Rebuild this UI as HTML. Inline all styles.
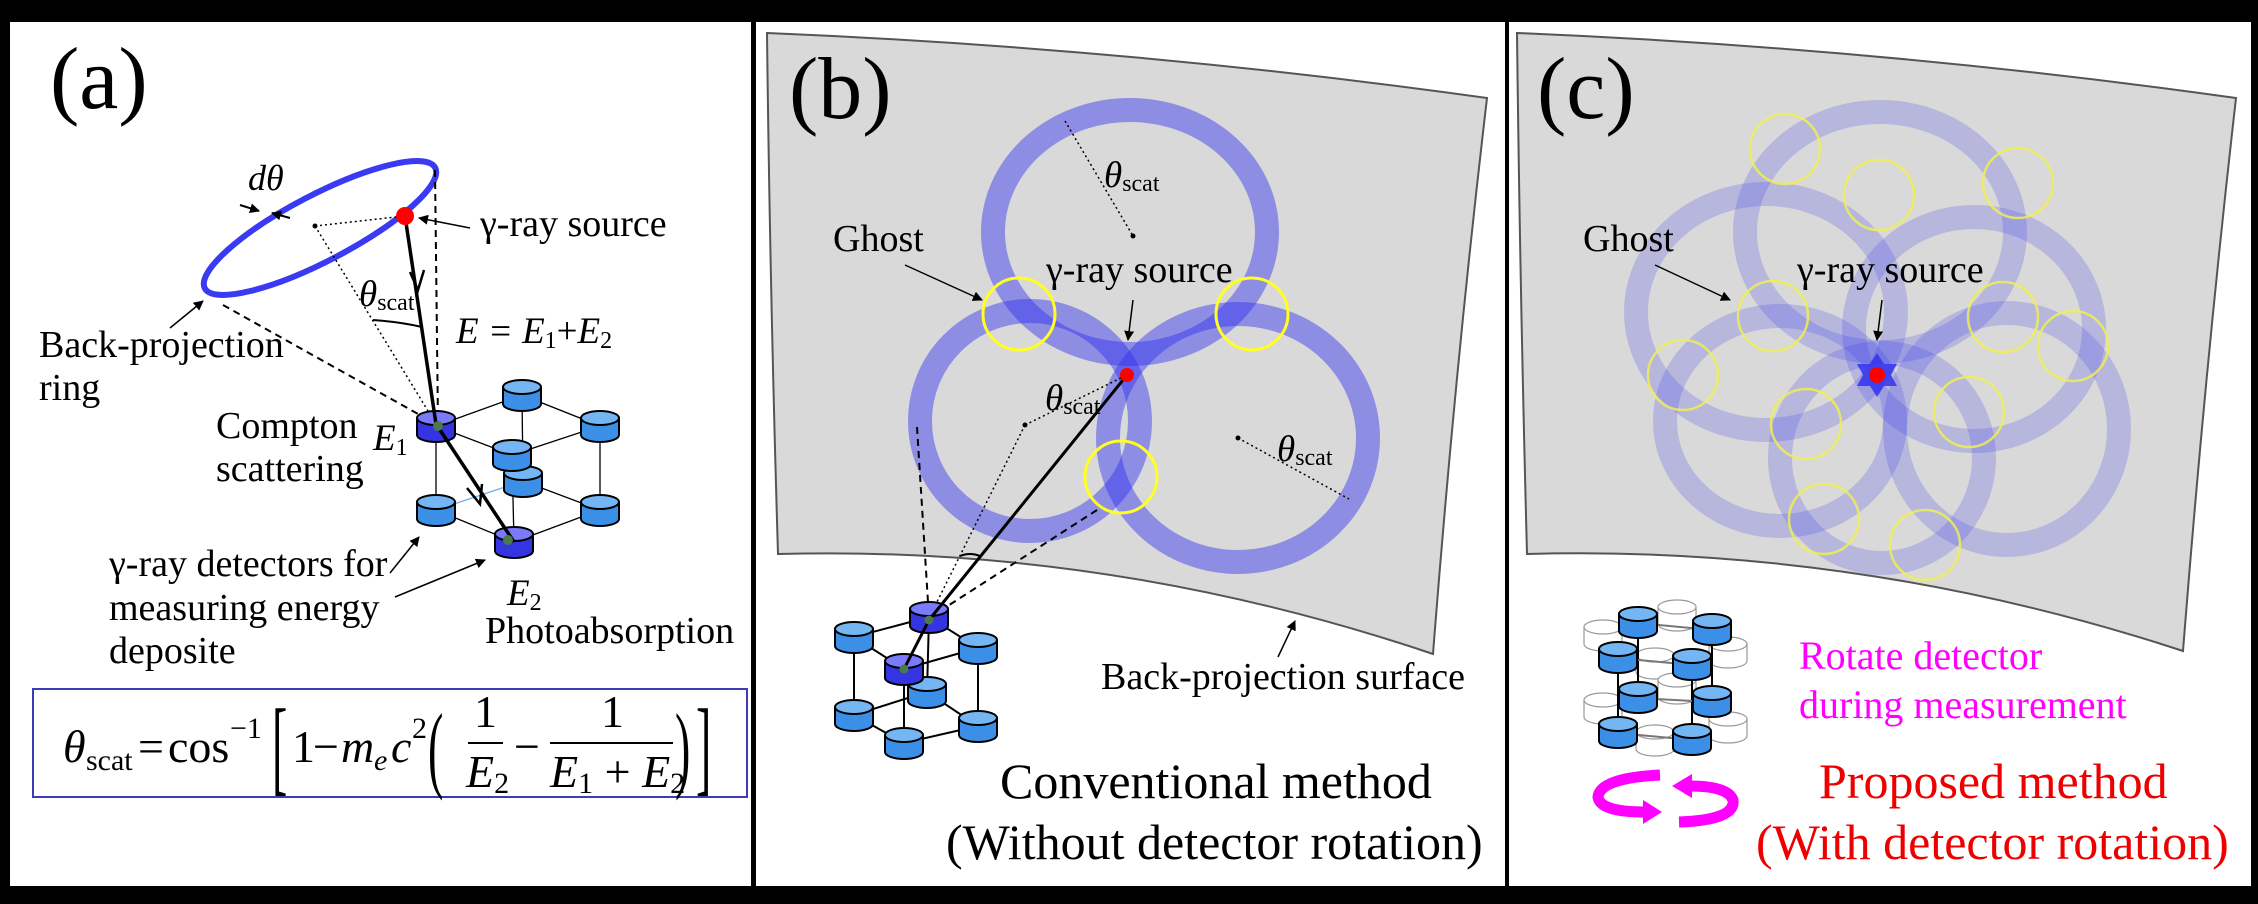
<!DOCTYPE html>
<html><head><meta charset="utf-8"><style>
html,body{margin:0;padding:0;background:#000;}
svg{display:block;font-family:"Liberation Serif",serif;}
text{font-family:"Liberation Serif",serif;}
</style></head><body>
<svg width="2258" height="904" viewBox="0 0 2258 904" xmlns="http://www.w3.org/2000/svg" font-family="Liberation Serif, serif">
<defs>
<g id="cyl"><path d="M-19,0 v17 a19,7 0 0 0 38,0 v-17" fill="#3c8fe6" stroke="#000" stroke-width="2"/><ellipse cx="0" cy="0" rx="19" ry="7" fill="#74b6f4" stroke="#000" stroke-width="2"/></g>
<g id="cyld"><path d="M-19,0 v17 a19,7 0 0 0 38,0 v-17" fill="#3434e0" stroke="#000" stroke-width="2"/><ellipse cx="0" cy="0" rx="19" ry="7" fill="#7a7aff" stroke="#000" stroke-width="2"/></g>
<g id="cylo"><path d="M-19,0 v17 a19,7 0 0 0 38,0 v-17" fill="#fff" stroke="#999" stroke-width="1.2"/><ellipse cx="0" cy="0" rx="19" ry="7" fill="#fff" stroke="#999" stroke-width="1.2"/></g>
<marker id="ah" markerWidth="10" markerHeight="10" refX="9" refY="5" orient="auto" markerUnits="userSpaceOnUse"><path d="M0,0 L10,5 L0,10 z" fill="#000"/></marker>
</defs>
<rect x="0" y="0" width="2258" height="904" fill="#000"/>
<rect x="10" y="22" width="741" height="864" fill="#fff"/>
<rect x="756" y="22" width="749" height="864" fill="#fff"/>
<rect x="1509" y="22" width="742" height="864" fill="#fff"/>

<!-- ===== Panel a ===== -->
<text x="50" y="108" font-size="88">(a)</text>
<ellipse cx="320" cy="228" rx="130" ry="33" transform="rotate(-27.6 320 228)" fill="none" stroke="#3a3af2" stroke-width="6"/>
<line x1="435" y1="170" x2="438" y2="424" stroke="#000" stroke-width="2" stroke-dasharray="7,5"/>
<line x1="223" y1="305" x2="436" y2="424" stroke="#000" stroke-width="2" stroke-dasharray="7,5"/>
<line x1="315" y1="226" x2="405" y2="216" stroke="#000" stroke-width="1.5" stroke-dasharray="2,3"/>
<line x1="315" y1="226" x2="436" y2="424" stroke="#000" stroke-width="1.5" stroke-dasharray="2,3"/>
<circle cx="315" cy="226" r="2.5" fill="#000"/>
<path d="M373,320 Q400,322 422,327" fill="none" stroke="#000" stroke-width="2"/>
<g stroke="#000" stroke-width="1.3" fill="none">
<polyline points="436,426 522,395 600,426 512,455 436,426"/>
<line x1="436" y1="426" x2="436" y2="510"/><line x1="600" y1="426" x2="600" y2="510"/><line x1="512" y1="455" x2="514" y2="542"/><line x1="522" y1="395" x2="523" y2="481"/>
<polyline points="436,510 514,542 600,510 523,481"/>
<line x1="436" y1="510" x2="523" y2="481" stroke="#6aaee8"/>
</g>
<use href="#cyl" x="522" y="387"/><use href="#cyl" x="600" y="418"/><use href="#cyl" x="523" y="473"/><use href="#cyl" x="512" y="447"/>
<use href="#cyl" x="436" y="502"/><use href="#cyl" x="600" y="502"/>
<use href="#cyld" x="436" y="418"/><use href="#cyld" x="514" y="534"/>
<line x1="405" y1="216" x2="436" y2="424" stroke="#000" stroke-width="3.5"/>
<line x1="436" y1="424" x2="514" y2="542" stroke="#000" stroke-width="3.5"/>
<path d="M410,272 L418,290 L424,270" fill="none" stroke="#000" stroke-width="2.5"/>
<path d="M467,488 L480,504 L482,484" fill="none" stroke="#000" stroke-width="2.5"/>
<circle cx="438" cy="426" r="5" fill="#4a7a4a"/><circle cx="508" cy="540" r="5" fill="#4a7a4a"/>
<circle cx="405" cy="216" r="9" fill="#f00"/>
<line x1="470" y1="228" x2="419" y2="218" stroke="#000" stroke-width="1.5" marker-end="url(#ah)"/>
<line x1="170" y1="328" x2="203" y2="301" stroke="#000" stroke-width="1.5" marker-end="url(#ah)"/>
<line x1="390" y1="573" x2="419" y2="537" stroke="#000" stroke-width="1.5" marker-end="url(#ah)"/>
<line x1="395" y1="597" x2="485" y2="560" stroke="#000" stroke-width="1.5" marker-end="url(#ah)"/>
<line x1="240" y1="205" x2="259" y2="211" stroke="#000" stroke-width="2" marker-end="url(#ah)"/>
<line x1="290" y1="218" x2="272" y2="213" stroke="#000" stroke-width="2" marker-end="url(#ah)"/>
<text x="248" y="190" font-size="36" font-style="italic">dθ</text>
<text x="480" y="236" font-size="38">γ-ray source</text>
<text x="359" y="306" font-size="37" font-style="italic">θ<tspan font-size="24" font-style="normal" dy="4">scat</tspan></text>
<text x="456" y="343" font-size="37" font-style="italic">E = E<tspan font-size="24" font-style="normal" dy="5">1</tspan><tspan dy="-5" font-style="normal">+</tspan>E<tspan font-size="24" font-style="normal" dy="5">2</tspan></text>
<text x="39" y="357" font-size="38">Back-projection</text>
<text x="39" y="400" font-size="38">ring</text>
<text x="216" y="438" font-size="38">Compton</text>
<text x="216" y="481" font-size="38">scattering</text>
<text x="373" y="450" font-size="37" font-style="italic">E<tspan font-size="24" font-style="normal" dy="5">1</tspan></text>
<text x="109" y="576" font-size="38">γ-ray detectors for</text>
<text x="109" y="620" font-size="38">measuring energy</text>
<text x="109" y="663" font-size="38">deposite</text>
<text x="507" y="605" font-size="37" font-style="italic">E<tspan font-size="24" font-style="normal" dy="5">2</tspan></text>
<text x="485" y="643" font-size="38">Photoabsorption</text>
<rect x="33" y="689" width="714" height="108" fill="none" stroke="#3c3cb4" stroke-width="2"/>
<g font-size="46">
<text x="63" y="762" font-style="italic">θ</text>
<text x="86" y="770" font-size="30">scat</text>
<text x="138" y="762">=</text>
<text x="168" y="762">cos</text>
<text x="230" y="738" font-size="30">−1</text>
<text transform="translate(272,782) scale(1,2.3)" font-size="46">[</text>
<text x="292" y="762">1</text>
<text x="313" y="762">−</text>
<text x="341" y="762" font-style="italic">m</text>
<text x="374" y="770" font-size="30" font-style="italic">e</text>
<text x="391" y="762" font-style="italic">c</text>
<text x="412" y="738" font-size="30">2</text>
<text transform="translate(428,780) scale(1,2.1)" font-size="46">(</text>
<text x="474" y="727">1</text>
<line x1="468" y1="743" x2="503" y2="743" stroke="#000" stroke-width="2"/>
<text x="466" y="787" font-style="italic">E<tspan font-size="30" font-style="normal" dy="6">2</tspan></text>
<text x="514" y="762">−</text>
<text x="601" y="727">1</text>
<line x1="550" y1="743" x2="673" y2="743" stroke="#000" stroke-width="2"/>
<text x="550" y="787" font-style="italic">E<tspan font-size="30" font-style="normal" dy="6">1</tspan><tspan font-style="normal" dy="-6"> + </tspan>E<tspan font-size="30" font-style="normal" dy="6">2</tspan></text>
<text transform="translate(675,780) scale(1,2.1)" font-size="46">)</text>
<text transform="translate(696,782) scale(1,2.3)" font-size="46">]</text>
</g>

<!-- ===== Panel b ===== -->
<path d="M767,33 Q1130,48 1487,98 Q1455,370 1433,654 Q1110,545 778,554 Q770,290 767,33 Z" fill="#d9d9d9" stroke="#555" stroke-width="2"/>
<text x="789" y="118" font-size="88">(b)</text>
<g fill="none" stroke="#3030f0" stroke-opacity="0.45" stroke-width="24">
<ellipse cx="1130" cy="232" rx="137" ry="122"/>
<ellipse cx="1030" cy="421" rx="110" ry="110"/>
<ellipse cx="1238" cy="438" rx="130" ry="124"/>
</g>
<g fill="none" stroke="#ffff22" stroke-width="3">
<circle cx="1019" cy="314" r="36"/><circle cx="1252" cy="314" r="36"/><circle cx="1121" cy="477" r="36"/>
</g>
<line x1="1065" y1="121" x2="1133" y2="236" stroke="#000" stroke-width="1.5" stroke-dasharray="2,3"/>
<circle cx="1133" cy="236" r="2.5" fill="#000"/>
<line x1="1025" y1="425" x2="1127" y2="375" stroke="#000" stroke-width="1.5" stroke-dasharray="2,3"/>
<line x1="1025" y1="425" x2="929" y2="618" stroke="#000" stroke-width="1.5" stroke-dasharray="2,3"/>
<circle cx="1025" cy="425" r="2.5" fill="#000"/>
<line x1="1238" y1="438" x2="1349" y2="499" stroke="#000" stroke-width="1.5" stroke-dasharray="2,3"/>
<circle cx="1238" cy="438" r="2.5" fill="#000"/>
<line x1="917" y1="427" x2="929" y2="618" stroke="#000" stroke-width="2" stroke-dasharray="7,5"/>
<line x1="1097" y1="510" x2="929" y2="618" stroke="#000" stroke-width="2" stroke-dasharray="7,5"/>
<path d="M960,556 Q970,552 980,556" fill="none" stroke="#000" stroke-width="2"/>
<text x="1104" y="187" font-size="37" font-style="italic">θ<tspan font-size="24" font-style="normal" dy="4">scat</tspan></text>
<text x="1045" y="410" font-size="37" font-style="italic">θ<tspan font-size="24" font-style="normal" dy="4">scat</tspan></text>
<text x="1277" y="461" font-size="37" font-style="italic">θ<tspan font-size="24" font-style="normal" dy="4">scat</tspan></text>
<text x="833" y="251" font-size="38">Ghost</text>
<line x1="905" y1="265" x2="982" y2="300" stroke="#000" stroke-width="1.5" marker-end="url(#ah)"/>
<text x="1046" y="282" font-size="38">γ-ray source</text>
<line x1="1133" y1="300" x2="1128" y2="340" stroke="#000" stroke-width="1.5" marker-end="url(#ah)"/>
<g stroke="#000" stroke-width="2" fill="none">
<polyline points="929,617 854,637 904,669 978,648 929,617"/>
<line x1="854" y1="637" x2="854" y2="715"/><line x1="978" y1="648" x2="978" y2="726"/><line x1="904" y1="669" x2="904" y2="743"/><line x1="929" y1="617" x2="927" y2="692"/>
<polyline points="854,715 904,743 978,726 927,692 854,715"/>
</g>
<use href="#cyl" x="854" y="629"/><use href="#cyl" x="978" y="640"/><use href="#cyl" x="927" y="684"/>
<use href="#cyl" x="854" y="707"/><use href="#cyl" x="978" y="718"/><use href="#cyl" x="904" y="735"/>
<use href="#cyld" x="929" y="609"/><use href="#cyld" x="904" y="661"/>
<line x1="1127" y1="375" x2="929" y2="620" stroke="#000" stroke-width="3"/>
<line x1="929" y1="620" x2="905" y2="667" stroke="#000" stroke-width="3"/>
<circle cx="929" cy="620" r="4.5" fill="#4a7a4a"/><circle cx="904" cy="669" r="4.5" fill="#4a7a4a"/>
<circle cx="1127" cy="375" r="7" fill="#f00"/>
<text x="1101" y="689" font-size="38">Back-projection surface</text>
<line x1="1278" y1="657" x2="1295" y2="621" stroke="#000" stroke-width="1.5" marker-end="url(#ah)"/>
<text x="1000" y="798" font-size="50">Conventional method</text>
<text x="946" y="859" font-size="50">(Without detector rotation)</text>

<!-- ===== Panel c ===== -->
<path d="M1517,33 Q1880,48 2236,98 Q2205,370 2183,651 Q1860,545 1527,554 Q1520,290 1517,33 Z" fill="#d9d9d9" stroke="#555" stroke-width="2"/>
<text x="1537" y="118" font-size="88">(c)</text>
<g fill="none" stroke="#3030f0" stroke-opacity="0.2" stroke-width="24">
<ellipse cx="1880" cy="232" rx="135" ry="120"/>
<ellipse cx="1780" cy="421" rx="115" ry="105"/>
<ellipse cx="2007" cy="429" rx="112" ry="116"/>
<ellipse cx="1882" cy="458" rx="102" ry="105"/>
<ellipse cx="1974" cy="329" rx="120" ry="112"/>
<ellipse cx="1766" cy="312" rx="130" ry="118"/>
</g>
<g fill="none" stroke="#eeee55" stroke-width="2.5" stroke-opacity="0.85">
<circle cx="1785" cy="149" r="35"/><circle cx="1879" cy="195" r="35"/><circle cx="2018" cy="183" r="35"/>
<circle cx="1773" cy="316" r="35"/><circle cx="2003" cy="317" r="35"/><circle cx="2073" cy="346" r="35"/>
<circle cx="1683" cy="375" r="35"/><circle cx="1969" cy="412" r="35"/><circle cx="1806" cy="424" r="35"/>
<circle cx="1824" cy="519" r="35"/><circle cx="1925" cy="545" r="35"/>
</g>
<polygon points="1877,353 1884,364 1897,364 1891,375 1897,386 1884,386 1877,397 1870,386 1857,386 1863,375 1857,364 1870,364" fill="#3333ee" opacity="0.85"/>
<circle cx="1877" cy="375" r="8" fill="#f00"/>
<text x="1583" y="251" font-size="38">Ghost</text>
<line x1="1655" y1="265" x2="1730" y2="300" stroke="#000" stroke-width="1.5" marker-end="url(#ah)"/>
<text x="1797" y="282" font-size="38">γ-ray source</text>
<line x1="1882" y1="300" x2="1877" y2="340" stroke="#000" stroke-width="1.5" marker-end="url(#ah)"/>
<use href="#cylo" x="1603" y="627"/><use href="#cylo" x="1677" y="607"/><use href="#cylo" x="1728" y="644"/><use href="#cylo" x="1655" y="655"/>
<use href="#cylo" x="1603" y="700"/><use href="#cylo" x="1677" y="680"/><use href="#cylo" x="1728" y="719"/><use href="#cylo" x="1655" y="732"/>
<g stroke="#000" stroke-width="2">
<line x1="1638" y1="623" x2="1638" y2="698"/><line x1="1712" y1="630" x2="1712" y2="702"/><line x1="1618" y1="658" x2="1618" y2="733"/><line x1="1692" y1="665" x2="1692" y2="740"/>
</g>
<g stroke="#777" stroke-width="2">
<line x1="1638" y1="623" x2="1712" y2="630"/><line x1="1618" y1="658" x2="1692" y2="665"/><line x1="1638" y1="698" x2="1712" y2="702"/><line x1="1618" y1="733" x2="1692" y2="740"/>
</g>
<use href="#cyl" x="1638" y="614"/><use href="#cyl" x="1712" y="621"/><use href="#cyl" x="1618" y="649"/><use href="#cyl" x="1692" y="656"/>
<use href="#cyl" x="1638" y="689"/><use href="#cyl" x="1712" y="693"/><use href="#cyl" x="1618" y="724"/><use href="#cyl" x="1692" y="731"/>
<g fill="none" stroke="#ff00ff" stroke-width="11">
<path d="M1660,775 Q1600,778 1598,797 Q1600,812 1645,812"/>
<path d="M1679,822 Q1736,820 1733,800 Q1728,786 1690,786"/>
</g>
<polygon points="1643,800 1662,812 1643,824" fill="#ff00ff"/>
<polygon points="1692,774 1672,786 1692,798" fill="#ff00ff"/>
<text x="1799" y="669" font-size="40" fill="#ff00ff">Rotate detector</text>
<text x="1799" y="718" font-size="40" fill="#ff00ff">during measurement</text>
<text x="1819" y="798" font-size="50" fill="#ee0000">Proposed method</text>
<text x="1756" y="859" font-size="50" fill="#ee0000">(With detector rotation)</text>
</svg>
</body></html>
